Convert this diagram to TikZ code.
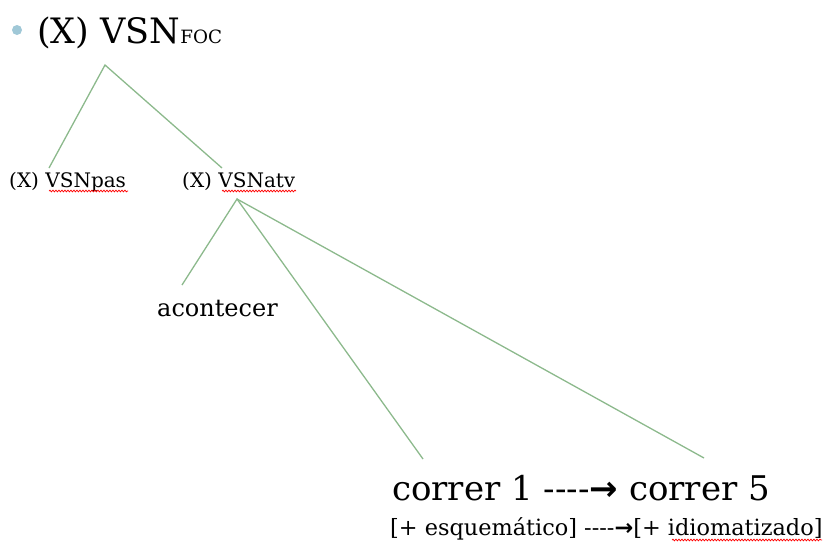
\documentclass[tikz,border=0pt]{standalone}
\usepackage{fontspec}
\setmainfont{DejaVu Serif}
\newfontfamily\symf{DejaVu Sans}
\usetikzlibrary{decorations.pathmorphing}
\definecolor{branch}{RGB}{140,185,140}
\definecolor{bul}{RGB}{160,200,215}
\tikzset{
  txt/.style={anchor=base west, inner sep=0pt, text=black},
  branchline/.style={draw=branch, line width=1.3pt},
  spell/.style={draw=red, line width=0.7pt, decorate, decoration={snake, amplitude=0.9pt, segment length=3pt}},
}
\newcommand{\arr}{{\symf\bfseries →}}
\newcommand{\dsh}{-{}-{}-{}-}
\begin{document}
\begin{tikzpicture}[x=1pt,y=-1pt]
\useasboundingbox (0,0) rectangle (836,542);
\fill[bul] (17,30) circle (5);
\node[txt, font=\fontsize{35}{40}\selectfont] (top) at (37,43) {(X) VSN\fontsize{18.3}{22}\selectfont FOC};
\coordinate (a1) at (105,65);
\node[txt, font=\fontsize{20}{24}\selectfont] (pas) at (9,187) {(X) VSNpas};
\node[txt, font=\fontsize{20}{24}\selectfont] (atv) at (182,187) {(X) VSNatv};
\coordinate (p1) at (49,168);
\coordinate (p2) at (222,168);
\coordinate (a2) at (237,199);
\node[txt, font=\fontsize{24}{28}\selectfont] (acon) at (157,316) {acontecer};
\coordinate (c1) at (182,285);
\coordinate (c2) at (423,459);
\coordinate (c3) at (704,458);
\node[txt, font=\fontsize{34}{40}\selectfont] (cor) at (392,500) {correr 1 \dsh\arr\ correr 5};
\node[txt, font=\fontsize{22.4}{26}\selectfont] (feat) at (390,535) {[+ esquemático] \dsh\arr[+ idiomatizado]};
\draw[branchline] (p1) -- (a1) -- (p2);
\draw[branchline] (c1) -- (a2) -- (c2);
\draw[branchline] (a2) -- (c3);
\draw[spell] (49,191) -- (128,191);
\draw[spell] (222,191) -- (296,191);
\draw[spell] (672,540) -- (822,540);
\end{tikzpicture}
\end{document}
